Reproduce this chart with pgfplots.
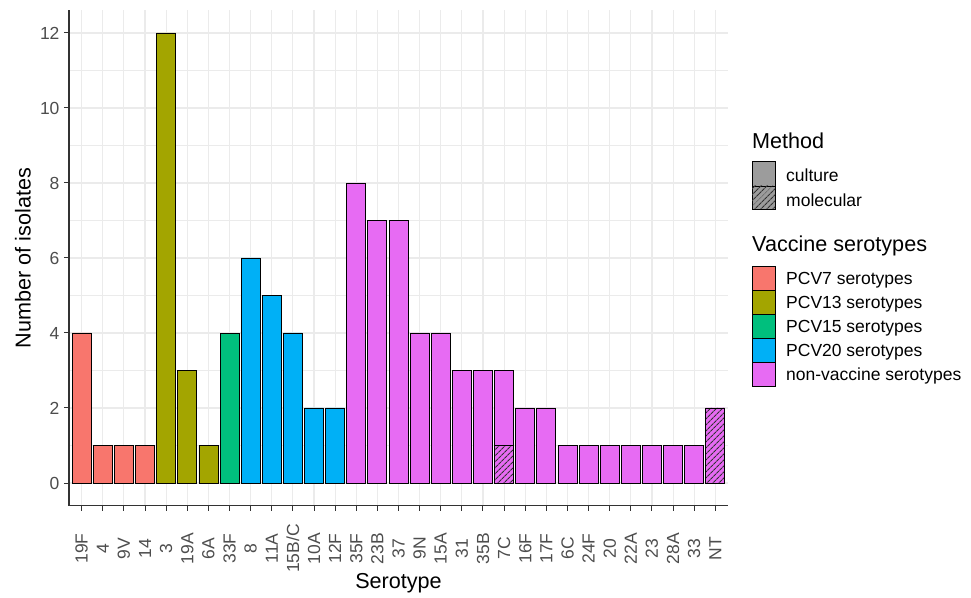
\documentclass[border=0pt]{standalone}
\usepackage{pgfplots}
\pgfplotsset{compat=1.18}
\usepackage{fontspec}
\setmainfont{Liberation Sans}
\usetikzlibrary{patterns.meta}
\definecolor{cA}{HTML}{F8766D}
\definecolor{cB}{HTML}{A3A500}
\definecolor{cC}{HTML}{00BF7D}
\definecolor{cD}{HTML}{00B0F6}
\definecolor{cE}{HTML}{E76BF3}
\definecolor{gridc}{HTML}{EBEBEB}
\definecolor{axc}{HTML}{333333}
\definecolor{tickc}{HTML}{4D4D4D}
\definecolor{keyg}{HTML}{9C9C9C}
\begin{document}
\begin{tikzpicture}[x=1pt,y=1pt]
\useasboundingbox (0,0) rectangle (971,597);
\begin{axis}[
  at={(69pt,91.5pt)}, anchor=south west,
  width=659pt, height=495pt, scale only axis,
  xmin=-0.6, xmax=30.6, ymin=-0.6, ymax=12.6,
  ybar, bar width=0.9,
  axis x line*=bottom, axis y line*=left,
  axis line style={axc, line width=1.1pt},
  xtick={0,...,30},
  xticklabels={19F,4,9V,14,3,19A,6A,33F,8,11A,15B/C,10A,12F,35F,23B,37,9N,15A,31,35B,7C,16F,17F,6C,24F,20,22A,23,28A,33,NT},
  ytick={0,2,...,12},
  minor y tick num=1,
  /pgf/number format/assume math mode=true,
  tick align=outside, major tick length=5pt, minor tick length=0pt,
  tick style={axc, line width=1pt},
  xmajorgrids, ymajorgrids, yminorgrids,
  major grid style={gridc, line width=1.1pt},
  minor grid style={gridc, line width=0.55pt},
  ticklabel style={font=\fontsize{17.5}{20}\selectfont, text=tickc},
  xticklabel style={yshift=-38pt, rotate=90, anchor=center},
  yticklabel style={xshift=-1pt},
  xlabel={Serotype}, ylabel={Number of isolates},
  label style={font=\fontsize{21.6}{24}\selectfont, text=black},
  xlabel style={at={(axis description cs:0.5,-0.156)}, anchor=center},
  ylabel style={at={(axis description cs:-0.0698,0.5)}, anchor=center, rotate=0},
  mybar/.style={fill=#1, draw=black, line width=0.8pt, bar shift=0pt},
  clip=false,
]
% PCV7
\addplot[mybar=cA] coordinates {(0,4) (1,1) (2,1) (3,1)};
% PCV13
\addplot[mybar=cB] coordinates {(4,12) (5,3) (6,1)};
% PCV15
\addplot[mybar=cC] coordinates {(7,4)};
% PCV20
\addplot[mybar=cD] coordinates {(8,6) (9,5) (10,4) (11,2) (12,2)};
% non-vaccine, total isolates
\addplot[mybar=cE] coordinates {(13,8) (14,7) (15,7) (16,4) (17,4) (18,3) (19,3) (20,3) (21,2) (22,2) (23,1) (24,1) (25,1) (26,1) (27,1) (28,1) (29,1) (30,2)};
% non-vaccine, molecular isolates
\addplot[mybar=cE, postaction={pattern={Lines[angle=45,distance=4pt,line width=1.1pt]}, pattern color=black!80}] coordinates {(20,1) (30,2)};
\end{axis}
% legend
\begin{scope}[every node/.style={inner sep=0pt, anchor=base west}]
\node at (752,448.7) {\fontsize{21.6}{24}\selectfont Method};
\draw[fill=keyg, draw=black, line width=0.8pt] (752,411) rectangle (775,436);
\draw[fill=keyg, draw=black, line width=0.8pt, postaction={pattern={Lines[angle=45,distance=4pt,line width=1.1pt]}, pattern color=black!80}] (752,388) rectangle (775,411);
\node at (786,415.3) {\fontsize{17.5}{20}\selectfont culture};
\node at (786,390.8) {\fontsize{17.5}{20}\selectfont molecular};
\node at (752,345) {\fontsize{21.6}{24}\selectfont Vaccine serotypes};
\draw[fill=cA, draw=black, line width=0.8pt] (752,307) rectangle (775,331);
\draw[fill=cB, draw=black, line width=0.8pt] (752,283) rectangle (775,307);
\draw[fill=cC, draw=black, line width=0.8pt] (752,259) rectangle (775,283);
\draw[fill=cD, draw=black, line width=0.8pt] (752,235) rectangle (775,259);
\draw[fill=cE, draw=black, line width=0.8pt] (752,211) rectangle (775,235);
\node at (786,312) {\fontsize{17.5}{20}\selectfont PCV7 serotypes};
\node at (786,288) {\fontsize{17.5}{20}\selectfont PCV13 serotypes};
\node at (786,264) {\fontsize{17.5}{20}\selectfont PCV15 serotypes};
\node at (786,240) {\fontsize{17.5}{20}\selectfont PCV20 serotypes};
\node at (786,216) {\fontsize{17.5}{20}\selectfont non-vaccine serotypes};
\end{scope}
\end{tikzpicture}
\end{document}
